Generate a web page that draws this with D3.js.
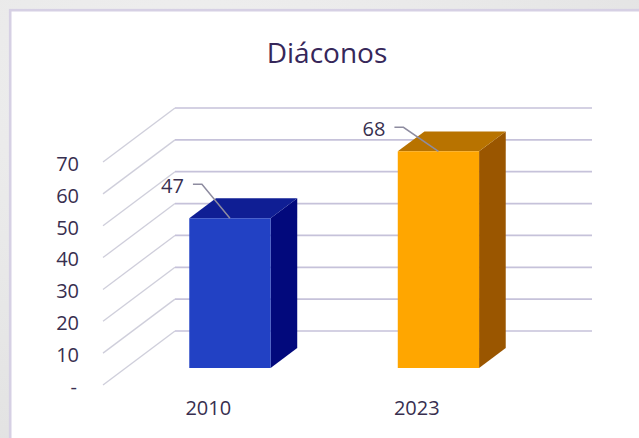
<!DOCTYPE html>
<html>
<head>
<meta charset="utf-8">
<script src="https://cdn.jsdelivr.net/npm/d3@7"></script>
<style>
  html, body { margin: 0; padding: 0; background: #ebebeb; }
  svg { display: block; }
</style>
</head>
<body>
<svg id="chart" width="639" height="438"></svg>
<script>
// chart data
var categories = ["2010", "2023"];
var values = [47, 68];
var yTicks = [0, 10, 20, 30, 40, 50, 60, 70];
var title = "Diáconos";

// styles
var faceColors = [
  { front: "#2241c4", top: "#0f1e94", side: "#02097c" },
  { front: "#ffa600", top: "#b87300", side: "#9a5600" }
];
// leader line vector from top of bar (hand placed in excel)
var leaderShift = [[-28, -34], [-35, -24]];

var W = 639, H = 438;
var DX = 72, DY = -54;      // full depth of the floor
var Z0 = 0.315, Z1 = 0.685; // bar depth inside floor
var txtColor = "#382f4f";

var svg = d3.select("#chart");

// background texture-ish
var defs = svg.append("defs");
var grad = defs.append("radialGradient").attr("id", "bg").attr("cx", "30%").attr("cy", "20%").attr("r", "90%");
grad.append("stop").attr("offset", "0%").attr("stop-color", "#f0f0f0");
grad.append("stop").attr("offset", "100%").attr("stop-color", "#e2e2e2");
svg.append("rect").attr("width", W).attr("height", H).attr("fill", "url(#bg)");

// white frame
svg.append("rect")
  .attr("x", 10.2).attr("y", 10.2)
  .attr("width", W).attr("height", H)
  .attr("fill", "#ffffff")
  .attr("stroke", "#d6d0e4")
  .attr("stroke-width", 2.6);

var x = d3.scaleBand()
  .domain(categories)
  .range([103, 520])
  .paddingInner(0.61)
  .paddingOuter(0.305);

var y = d3.scaleLinear()
  .domain([0, 70])
  .range([385, 162]);

function proj(px, py, z) {
  return [px + z * DX, py + z * DY];
}

// gridlines: side wall diagonals + back wall
var grid = svg.append("g");
yTicks.forEach(function (t) {
  var a = proj(x.range()[0], y(t), 0),
      b = proj(x.range()[0], y(t), 1),
      c = proj(x.range()[1], y(t), 1);
  grid.append("line")
    .attr("x1", a[0]).attr("y1", a[1]).attr("x2", b[0]).attr("y2", b[1])
    .attr("stroke", "#cfcedb").attr("stroke-width", 1.3);
  grid.append("line")
    .attr("x1", b[0]).attr("y1", b[1]).attr("x2", c[0]).attr("y2", c[1])
    .attr("stroke", "#c6c2da").attr("stroke-width", 1.7);
});

// bars
var bars = svg.append("g").selectAll("g.bar")
  .data(values)
  .enter().append("g").attr("class", "bar");

function poly(pts) {
  return "M" + pts.map(function (p) { return p.join(","); }).join("L") + "Z";
}

bars.append("path")
  .attr("d", function (d, i) {
    var x0 = x(categories[i]), x1 = x0 + x.bandwidth();
    return poly([proj(x1, y(d), Z0), proj(x1, y(0), Z0), proj(x1, y(0), Z1), proj(x1, y(d), Z1)]);
  })
  .attr("fill", function (d, i) { return faceColors[i].side; });

bars.append("path")
  .attr("d", function (d, i) {
    var x0 = x(categories[i]), x1 = x0 + x.bandwidth();
    return poly([proj(x0, y(d), Z0), proj(x1, y(d), Z0), proj(x1, y(d), Z1), proj(x0, y(d), Z1)]);
  })
  .attr("fill", function (d, i) { return faceColors[i].top; });

bars.append("path")
  .attr("d", function (d, i) {
    var x0 = x(categories[i]), x1 = x0 + x.bandwidth();
    return poly([proj(x0, y(d), Z0), proj(x1, y(d), Z0), proj(x1, y(0), Z0), proj(x0, y(0), Z0)]);
  })
  .attr("fill", function (d, i) { return faceColors[i].front; });

// data labels with leader lines
bars.each(function (d, i) {
  var g = d3.select(this);
  var x0 = x(categories[i]);
  var top = proj(x0 + x.bandwidth() / 2, y(d), Z0);
  var mid = [top[0] + leaderShift[i][0], top[1] + leaderShift[i][1]];
  var end = [mid[0] - 9, mid[1]];
  g.append("path")
    .attr("d", "M" + top.join(",") + "L" + mid.join(",") + "L" + end.join(","))
    .attr("fill", "none")
    .attr("stroke", "#8e8ca0")
    .attr("stroke-width", 1.5);
  g.append("text")
    .attr("x", end[0] - 9)
    .attr("y", end[1] + 2)
    .attr("dy", "0.35em")
    .attr("text-anchor", "end")
    .attr("font-family", "'Open Sans', sans-serif")
    .attr("font-size", "20px")
    .attr("fill", txtColor)
    .text(d);
});

// y axis (front of side wall)
var yAxis = svg.append("g")
  .attr("transform", "translate(79,2)")
  .call(d3.axisLeft(y).tickValues(yTicks).tickSize(0).tickPadding(0)
    .tickFormat(function (d) { return d === 0 ? "-" : d; }));
yAxis.select(".domain").remove();
yAxis.selectAll("text")
  .attr("font-family", "'Open Sans', sans-serif")
  .attr("font-size", "20px")
  .attr("fill", txtColor);
yAxis.selectAll("text").filter(function (d) { return d === 0; }).attr("dx", "-0.1em");

// x axis
var xAxis = svg.append("g")
  .attr("transform", "translate(1,401)")
  .call(d3.axisBottom(x).tickSize(0).tickPadding(0));
xAxis.select(".domain").remove();
xAxis.selectAll("text")
  .attr("font-family", "'Open Sans', sans-serif")
  .attr("font-size", "20px")
  .attr("fill", txtColor);

// title
svg.append("text")
  .attr("x", 327)
  .attr("y", 63)
  .attr("text-anchor", "middle")
  .attr("font-family", "'Open Sans', sans-serif")
  .attr("font-size", "28px")
  .attr("fill", "#36275a")
  .text(title);
</script>
</body>
</html>
